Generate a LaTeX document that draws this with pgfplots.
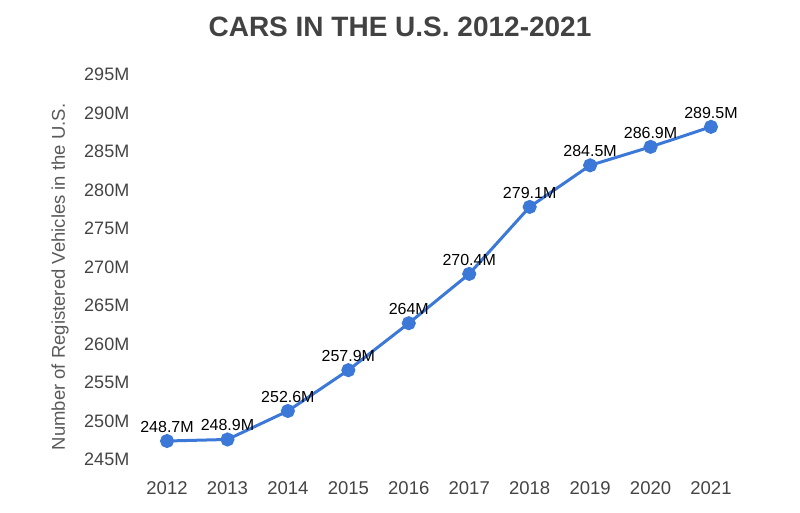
\documentclass[border=0pt]{standalone}
\usepackage{fontspec}
\setmainfont{Liberation Sans}
\usepackage{pgfplots}
\pgfplotsset{compat=1.18}
\usepackage{pgfplotstable}
\definecolor{lineblue}{HTML}{3C78D8}
\definecolor{ticktxt}{HTML}{444444}
\definecolor{labtxt}{HTML}{5A5A5A}
\definecolor{titletxt}{HTML}{424242}
\pgfplotstableread{
year val lab
2012 248.7 248.7M
2013 248.9 248.9M
2014 252.6 252.6M
2015 257.9 257.9M
2016 264.0 264M
2017 270.4 270.4M
2018 279.1 279.1M
2019 284.5 284.5M
2020 286.9 286.9M
2021 289.5 289.5M
}\cardata
\begin{document}
\begin{tikzpicture}[x=1pt,y=1pt]
\path[use as bounding box] (-136.8,-43.5) rectangle (663.2,469.5);
\begin{axis}[
  at={(0,0)}, anchor=south west,
  scale only axis, width=604.4pt, height=385pt,
  xmin=2011.5, xmax=2021.5, ymin=245, ymax=295,
  clip=false,
  axis line style={draw=none},
  tick style={draw=none},
  major tick length=0pt,
  /pgf/number format/assume math mode=true,
  xtick={2012,2013,2014,2015,2016,2017,2018,2019,2020,2021},
  xticklabels={2012,2013,2014,2015,2016,2017,2018,2019,2020,2021},
  ytick={245,250,255,260,265,270,275,280,285,290,295},
  yticklabels={245M,250M,255M,260M,265M,270M,275M,280M,285M,290M,295M},
  xticklabel style={font=\fontsize{18.5}{18.5}\selectfont, text=ticktxt, anchor=north, yshift=-9pt},
  yticklabel style={font=\fontsize{18}{18}\selectfont, text=ticktxt, anchor=base east, yshift=3.5pt, xshift=-4pt},
  ylabel={Number of Registered Vehicles in the U.S.},
  ylabel style={at={(axis description cs:-0.127,0.5)}, anchor=center,
    font=\fontsize{18.5}{18.5}\selectfont, text=labtxt},
]
\addplot[lineblue, line width=3pt, mark=*, mark size=5.5pt,
  mark options={fill=lineblue, draw=none},
  nodes near coords={\pgfplotspointmeta},
  point meta=explicit symbolic,
  every node near coord/.append style={font=\fontsize{16}{16}\selectfont, text=black, anchor=south, inner sep=0pt, yshift=7pt}]
  table[x=year, y=val, meta=lab] {\cardata};
\end{axis}
\node[font=\fontsize{28}{28}\selectfont\bfseries, text=titletxt] at (263.2,442.5) {CARS IN THE U.S. 2012-2021};
\end{tikzpicture}
\end{document}
